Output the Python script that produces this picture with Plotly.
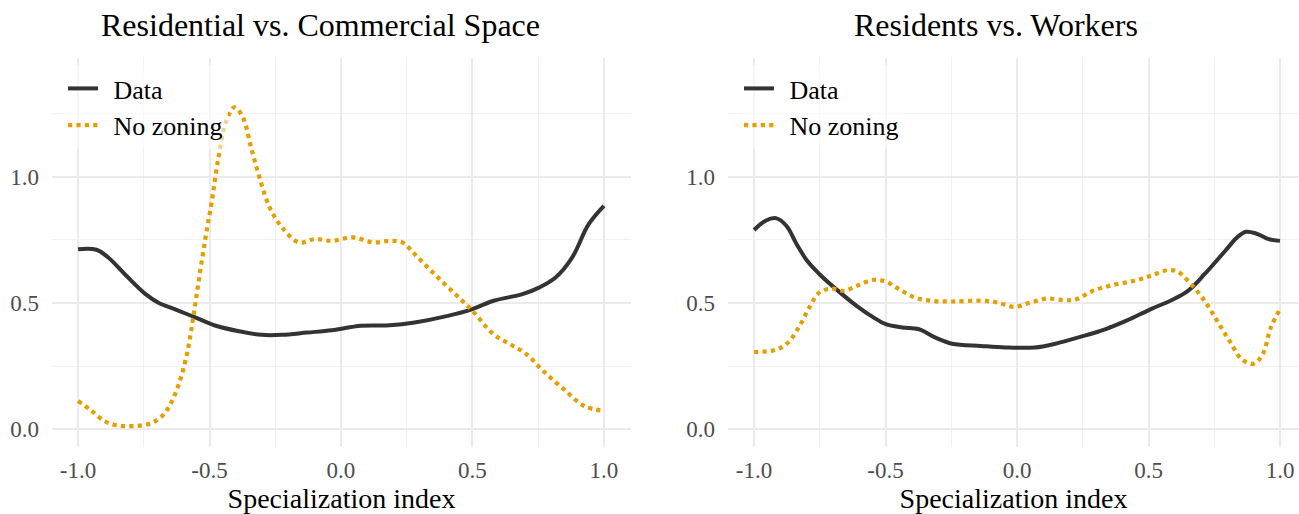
import plotly.graph_objects as go

W, H = 1299, 514

# ---- Data ----
left_data_x = [-1.0, -0.93, -0.885, -0.822, -0.743, -0.696, -0.633, -0.554, -0.476, -0.381, -0.302,
               -0.224, -0.129, -0.035, 0.076, 0.186, 0.28, 0.406, 0.5, 0.58, 0.69, 0.753, 0.816,
               0.879, 0.942, 1.0]
left_data_y = [0.713, 0.711, 0.68, 0.614, 0.535, 0.502, 0.476, 0.443, 0.41, 0.387, 0.374,
               0.374, 0.383, 0.392, 0.41, 0.412, 0.423, 0.449, 0.476, 0.509, 0.535, 0.561, 0.601,
               0.68, 0.812, 0.885]

left_nz_x = [-1.0, -0.948, -0.9, -0.854, -0.79, -0.728, -0.68, -0.649, -0.617, -0.586, -0.562,
             -0.539, -0.515, -0.491, -0.468, -0.436, -0.405, -0.373, -0.342, -0.31, -0.271,
             -0.224, -0.161, -0.098, -0.035, 0.044, 0.123, 0.186, 0.233, 0.28, 0.343, 0.422,
             0.5, 0.58, 0.643, 0.706, 0.769, 0.847, 0.926, 1.0]
left_nz_y = [0.112, 0.073, 0.033, 0.016, 0.013, 0.022, 0.053, 0.099, 0.178, 0.297, 0.443,
             0.601, 0.76, 0.905, 1.063, 1.222, 1.275, 1.235, 1.116, 0.997, 0.878,
             0.799, 0.74, 0.753, 0.746, 0.76, 0.74, 0.746, 0.74, 0.694, 0.627, 0.548,
             0.469, 0.376, 0.337, 0.297, 0.231, 0.159, 0.092, 0.073]

right_data_x = [-1.0, -0.956, -0.917, -0.877, -0.838, -0.798, -0.751, -0.688, -0.61, -0.546,
                -0.499, -0.436, -0.373, -0.31, -0.247, -0.137, -0.043, 0.068, 0.146, 0.241,
                0.335, 0.414, 0.509, 0.587, 0.65, 0.713, 0.792, 0.839, 0.871, 0.91, 0.957, 1.0]
right_data_y = [0.789, 0.826, 0.836, 0.806, 0.733, 0.667, 0.614, 0.555, 0.489, 0.443,
                0.416, 0.403, 0.396, 0.363, 0.339, 0.33, 0.324, 0.324, 0.339, 0.366,
                0.396, 0.429, 0.476, 0.511, 0.548, 0.614, 0.707, 0.762, 0.782, 0.775, 0.753, 0.746]

right_nz_x = [-1.0, -0.924, -0.877, -0.83, -0.79, -0.751, -0.704, -0.657, -0.609, -0.546,
              -0.499, -0.452, -0.389, -0.326, -0.247, -0.137, -0.074, -0.011, 0.052, 0.115,
              0.178, 0.225, 0.288, 0.367, 0.446, 0.509, 0.572, 0.611, 0.65, 0.713, 0.761,
              0.808, 0.855, 0.9, 0.934, 0.965, 1.0]
right_nz_y = [0.306, 0.313, 0.337, 0.403, 0.482, 0.542, 0.557, 0.548, 0.568, 0.592,
              0.585, 0.557, 0.522, 0.509, 0.506, 0.509, 0.502, 0.485, 0.502, 0.518,
              0.511, 0.515, 0.548, 0.572, 0.588, 0.608, 0.63, 0.624, 0.588, 0.509, 0.429,
              0.35, 0.277, 0.26, 0.297, 0.403, 0.476]

titles = ["Residential vs. Commercial Space", "Residents vs. Workers"]
x_title = "Specialization index"
series_names = ["Data", "No zoning"]
tick_vals = [-1.0, -0.5, 0.0, 0.5, 1.0]
tick_text = ["-1.0", "-0.5", "0.0", "0.5", "1.0"]
ytick_vals = [0.0, 0.5, 1.0]
ytick_text = ["0.0", "0.5", "1.0"]

DARK = "#333333"
ORANGE = "#E69F00"
FONT = "Liberation Serif"
GRID = "#EBEBEB"
GRID_MINOR = "#F0F0F0"
PAD = "\u2009\u2009"  # small gap between legend key and label

fig = go.Figure()

def add_pair(xd, yd, xn, yn, xa, ya, lg):
    fig.add_trace(go.Scatter(x=xd, y=yd, mode="lines", name=PAD + series_names[0],
                             line=dict(color=DARK, width=4, shape="spline", smoothing=1.0),
                             xaxis=xa, yaxis=ya, legend=lg))
    fig.add_trace(go.Scatter(x=xn, y=yn, mode="lines", name=PAD + series_names[1],
                             line=dict(color=ORANGE, width=4.2, dash="dot", shape="spline", smoothing=1.0),
                             xaxis=xa, yaxis=ya, legend=lg))

add_pair(left_data_x, left_data_y, left_nz_x, left_nz_y, "x", "y", "legend")
add_pair(right_data_x, right_data_y, right_nz_x, right_nz_y, "x2", "y2", "legend2")

T, B = 58, 67
PH = H - T - B

common_x = dict(tickmode="array", tickvals=tick_vals, ticktext=tick_text,
                showgrid=True, gridcolor=GRID, gridwidth=2.2, zeroline=False, showline=False,
                ticks="", ticklabelstandoff=7, automargin=False,
                tickfont=dict(family=FONT, size=23, color="#4D4D4D"),
                minor=dict(dtick=0.25, tick0=0, showgrid=True, gridcolor=GRID_MINOR, gridwidth=1.2),
                title=dict(text=x_title, font=dict(family=FONT, size=28, color="black"), standoff=4),
                fixedrange=True)
common_y = dict(tickmode="array", tickvals=ytick_vals, ticktext=ytick_text,
                range=[-0.07, 1.47], automargin=False,
                showgrid=True, gridcolor=GRID, gridwidth=2.2, zeroline=False, showline=False,
                ticks="", ticklabelstandoff=12,
                tickfont=dict(family=FONT, size=23, color="#4D4D4D"),
                minor=dict(dtick=0.25, tick0=0, showgrid=True, gridcolor=GRID_MINOR, gridwidth=1.2),
                fixedrange=True)

legend_common = dict(font=dict(family=FONT, size=26, color="black"),
                     bgcolor="rgba(255,255,255,0.55)", borderwidth=0,
                     xref="paper", yref="paper", xanchor="left", yanchor="top",
                     tracegroupgap=0)

fig.update_layout(
    width=W, height=H,
    margin=dict(l=0, r=0, t=T, b=B, autoexpand=False),
    plot_bgcolor="white", paper_bgcolor="white",
    showlegend=True,
    xaxis=dict(common_x, domain=[52 / W, 631 / W], range=[-1.099, 1.103], anchor="y"),
    yaxis=dict(common_y, anchor="x"),
    xaxis2=dict(common_x, domain=[728 / W, 1.0], range=[-1.0989, 1.0722], anchor="y2"),
    yaxis2=dict(common_y, anchor="x2"),
    legend=dict(legend_common, x=63 / W, y=(H - B - 65) / PH),
    legend2=dict(legend_common, x=(63 + 676) / W, y=(H - B - 65) / PH),
)

for txt, cx in zip(titles, [320, 996]):
    fig.add_annotation(text=txt, x=cx / W, y=(H - B - 25) / PH, xref="paper", yref="paper",
                       xanchor="center", yanchor="middle", showarrow=False,
                       font=dict(family=FONT, size=32, color="black"))

fig.write_html("out.html")
